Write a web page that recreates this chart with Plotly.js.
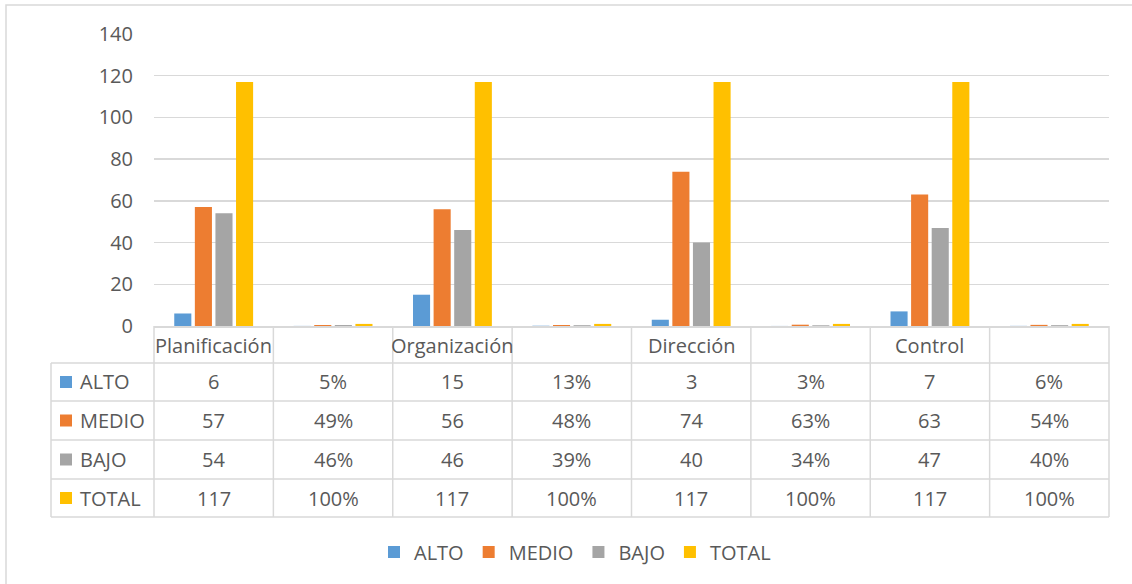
<!DOCTYPE html>
<html>
<head>
<meta charset="utf-8">
<script src="https://cdn.plot.ly/plotly-3.0.1.min.js"></script>
<style>
  html, body { margin: 0; padding: 0; background: #ffffff; }
  #chart { width: 1132px; height: 584px; }
</style>
</head>
<body>
<div id="chart"></div>
<script>
// ---- data ----
const categories = ['Planificación', '', 'Organización', '', 'Dirección', '', 'Control', ''];
const isPercent  = [false, true, false, true, false, true, false, true];
const seriesNames = ['ALTO', 'MEDIO', 'BAJO', 'TOTAL'];
const alto  = [6, 0.05, 15, 0.13, 3, 0.03, 7, 0.06];
const medio = [57, 0.49, 56, 0.48, 74, 0.63, 63, 0.54];
const bajo  = [54, 0.46, 46, 0.39, 40, 0.34, 47, 0.40];
const total = [117, 1, 117, 1, 117, 1, 117, 1];
const yTickValues = [0, 20, 40, 60, 80, 100, 120, 140];

// ---- style ----
const seriesValues = [alto, medio, bajo, total];
const seriesColors = ['#5B9BD5', '#ED7D31', '#A5A5A5', '#FFC000'];
const textColor = '#595959';
const lineColor = '#D9D9D9';
const FONT = '"Open Sans", "Liberation Sans", sans-serif';

// layout geometry (pixels)
const FIG_W = 1132, FIG_H = 584;
const M = { l: 154, r: 23, t: 34, b: 258 };
const PW = FIG_W - M.l - M.r;
const PH = FIG_H - M.t - M.b;
const px = p => (p - M.l) / PW;              // pixel x -> paper x
const py = p => (M.t + PH - p) / PH;         // pixel y -> paper y

const xIdx = categories.map((_, i) => i);

const traces = seriesNames.map((name, s) => ({
  type: 'bar',
  name: name,
  x: xIdx,
  y: seriesValues[s],
  marker: { color: seriesColors[s], line: { width: 0 } },
  hoverinfo: 'skip'
}));

// table geometry
const rowLines = [363, 401, 440, 479, 517];      // horizontal borders below category row
const catRowCenter = 345;
const rowCenters = [382, 420.5, 459.5, 498];
const tableLeft = 51;

const shapes = [];
const annotations = [];
const ln = { color: lineColor, width: 1.5 };

// outer chart border
shapes.push({ type: 'rect', xref: 'paper', yref: 'paper',
  x0: px(6), x1: px(1140), y0: py(5), y1: py(600), line: ln });

// horizontal table lines
rowLines.forEach(yy => shapes.push({ type: 'line', xref: 'paper', yref: 'paper',
  x0: px(tableLeft), x1: 1, y0: py(yy), y1: py(yy), line: ln }));
// header column left border
shapes.push({ type: 'line', xref: 'paper', yref: 'paper',
  x0: px(tableLeft), x1: px(tableLeft), y0: py(rowLines[0]), y1: py(rowLines[rowLines.length - 1]), line: ln });
// vertical category borders
for (let k = 0; k <= categories.length; k++) {
  shapes.push({ type: 'line', xref: 'x domain', yref: 'paper',
    x0: k / categories.length, x1: k / categories.length,
    y0: 0, y1: py(rowLines[rowLines.length - 1]), line: ln });
}

// category labels
categories.forEach((c, i) => {
  if (!c) return;
  annotations.push({ xref: 'x', yref: 'paper', x: i, y: py(catRowCenter),
    text: c, showarrow: false, xanchor: 'center', yanchor: 'middle',
    font: { family: FONT, size: 20, color: textColor } });
});

// row headers with colour keys + cell values
seriesNames.forEach((name, s) => {
  const yc = rowCenters[s];
  shapes.push({ type: 'rect', xref: 'paper', yref: 'paper',
    x0: px(60), x1: px(72), y0: py(yc + 6), y1: py(yc - 6),
    fillcolor: seriesColors[s], line: { width: 0 } });
  annotations.push({ xref: 'paper', yref: 'paper', x: px(78), y: py(yc),
    text: name, showarrow: false, xanchor: 'left', yanchor: 'middle',
    font: { family: FONT, size: 20, color: textColor } });
  seriesValues[s].forEach((v, i) => {
    const label = isPercent[i] ? Math.round(v * 100) + '%' : String(v);
    annotations.push({ xref: 'x', yref: 'paper', x: i, y: py(yc),
      text: label, showarrow: false, xanchor: 'center', yanchor: 'middle',
      font: { family: FONT, size: 20, color: textColor } });
  });
});

const layout = {
  width: FIG_W, height: FIG_H,
  margin: M,
  paper_bgcolor: '#ffffff',
  plot_bgcolor: '#ffffff',
  font: { family: FONT, size: 20, color: textColor },
  barmode: 'group',
  bargap: 0.31,
  bargroupgap: 0.17,
  showlegend: true,
  legend: {
    orientation: 'h', x: px(575), xanchor: 'center', y: py(552), yanchor: 'middle',
    font: { family: FONT, size: 20, color: textColor },
    itemclick: false, itemdoubleclick: false, traceorder: 'normal'
  },
  xaxis: {
    range: [-0.5, categories.length - 0.5],
    showgrid: false, zeroline: false,
    showline: true, linecolor: lineColor, linewidth: 1.5,
    showticklabels: false, ticks: '', fixedrange: true
  },
  yaxis: {
    range: [0, 140],
    tickvals: yTickValues,
    showgrid: true, gridcolor: lineColor, gridwidth: 1.5,
    zeroline: false, showline: false,
    ticks: '', ticklabelstandoff: 20,
    tickfont: { family: FONT, size: 20, color: textColor },
    fixedrange: true
  },
  shapes: shapes,
  annotations: annotations
};

Plotly.newPlot('chart', traces, layout, { displayModeBar: false, staticPlot: true });
</script>
</body>
</html>
